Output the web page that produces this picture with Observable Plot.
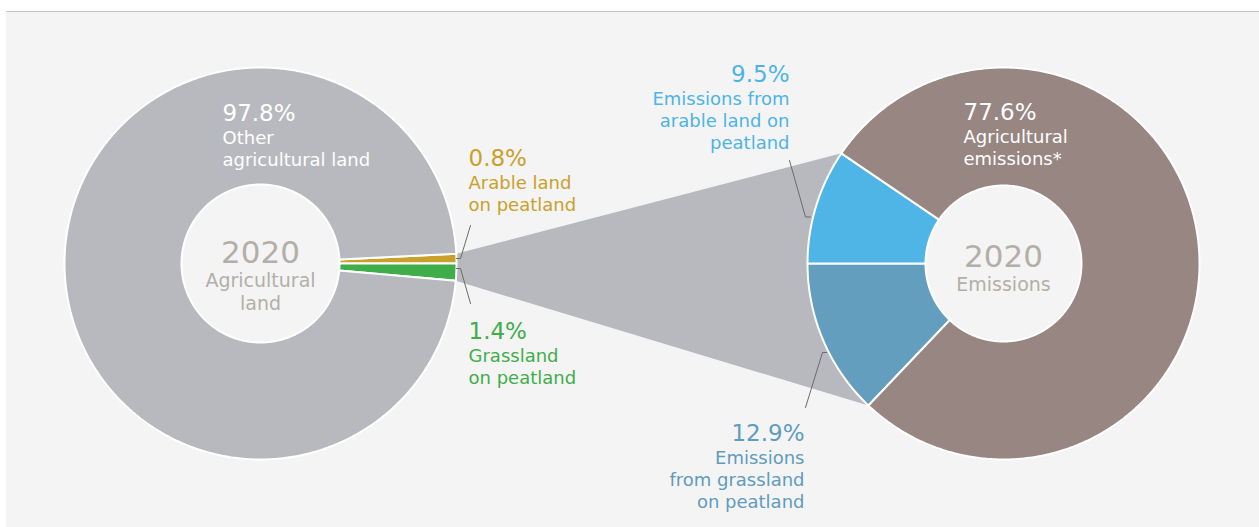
<!DOCTYPE html>
<html>
<head>
<meta charset="utf-8">
<script src="https://cdn.jsdelivr.net/npm/d3@7"></script>
<script src="https://cdn.jsdelivr.net/npm/@observablehq/plot@0.6"></script>
<style>
  html, body { margin: 0; padding: 0; background: #ffffff; width: 1259px; height: 527px; overflow: hidden; }
  #panel { position: absolute; left: 6px; top: 11px; right: 0; bottom: 0; background: #f4f4f4; border-top: 1px solid #c4c4c4; }
  #chart { position: absolute; left: 0; top: 0; }
</style>
</head>
<body>
<div id="panel"></div>
<div id="chart"></div>
<script>
// ---------------- DATA ----------------
const year = "2020";
const landCategories = ["Arable land on peatland", "Grassland on peatland", "Other agricultural land"];
const landShares = [0.8, 1.4, 97.8];
const landLabels = ["Arable land\non peatland", "Grassland\non peatland", "Other\nagricultural land"];
const landTitle = "Agricultural\nland";

const emissionCategories = ["Emissions from grassland on peatland", "Emissions from arable land on peatland", "Agricultural emissions*"];
const emissionShares = [12.9, 9.5, 77.6];
const emissionLabels = ["Emissions\nfrom grassland\non peatland", "Emissions from\narable land on\npeatland", "Agricultural\nemissions*"];
const emissionTitle = "Emissions";

// ---------------- STYLE / LAYOUT ----------------
const W = 1259, H = 527;
const FONT = "'DejaVu Sans', sans-serif";
const landColors = ["#c9a12a", "#3fae4a", "#b8b9be"];
const emissionColors = ["#639ebf", "#4fb5e7", "#978682"];
const landTextColors = ["#c9a12a", "#3fae4a", "#ffffff"];
const emissionTextColors = ["#5f9cbe", "#4db4e6", "#ffffff"];
const centerColor = "#b3afa8";
const leftDonut = {cx: 260, cy: 263, r: 196, r0: 79};
const rightDonut = {cx: 1003, cy: 263, r: 196, r0: 78};
// label anchor positions (x, baseline of percent) and text anchor
const landLabelPos = [
  {x: 468, y: 165, anchor: "start"},
  {x: 468, y: 338, anchor: "start"},
  {x: 222, y: 120, anchor: "start"}
];
const emissionLabelPos = [
  {x: 804, y: 440, anchor: "end"},
  {x: 789, y: 81, anchor: "end"},
  {x: 963, y: 119, anchor: "start"}
];
const leaderLines = [
  [[470, 225], [460, 258], [456, 258]],
  [[470, 303], [460, 268], [456, 268]],
  [[789, 160], [805, 216.5], [810, 216.5]],
  [[805, 407], [822, 352], [826, 352]]
];
const PCT = 23, DESC = 18, LH = 22;

// ---------------- GEOMETRY FROM DATA ----------------
const toRad = Math.PI * 2 / 100;
const landPie = d3.pie().sort(null).value(d => d)
  .startAngle(Math.PI / 2 - landShares[0] * toRad)
  .endAngle(Math.PI / 2 - landShares[0] * toRad + Math.PI * 2)(landShares);
const emPie = d3.pie().sort(null).value(d => d)
  .startAngle(Math.PI * 1.5 - emissionShares[0] * toRad)
  .endAngle(Math.PI * 1.5 - emissionShares[0] * toRad + Math.PI * 2)(emissionShares);

const pt = (dn, a, r) => ({x: dn.cx + r * Math.sin(a), y: dn.cy - r * Math.cos(a)});
function arcPoly(dn, a0, a1, key, category) {
  const n = Math.max(2, Math.ceil((a1 - a0) / (Math.PI / 360)));
  const pts = [];
  for (let i = 0; i <= n; i++) pts.push({...pt(dn, a0 + (a1 - a0) * i / n, dn.r), key, category});
  for (let i = n; i >= 0; i--) pts.push({...pt(dn, a0 + (a1 - a0) * i / n, dn.r0), key, category});
  pts.push({...pts[0]});
  return pts;
}
const slices = [
  ...landPie.flatMap((s, i) => arcPoly(leftDonut, s.startAngle, s.endAngle, "L" + i, landCategories[i])),
  ...emPie.flatMap((s, i) => arcPoly(rightDonut, s.startAngle, s.endAngle, "E" + i, emissionCategories[i]))
];
const funnel = [
  pt(leftDonut, landPie[0].startAngle, leftDonut.r),
  pt(rightDonut, emPie[1].endAngle, rightDonut.r),
  pt(rightDonut, emPie[0].startAngle, rightDonut.r),
  pt(leftDonut, landPie[1].endAngle, leftDonut.r)
];
funnel.push({...funnel[0]});

const fmt = v => d3.format(".1f")(v) + "%";
const lines = s => s.split("\n").length;
const labelData = [
  ...landShares.map((v, i) => ({pct: fmt(v), desc: landLabels[i], color: landTextColors[i], ...landLabelPos[i]})),
  ...emissionShares.map((v, i) => ({pct: fmt(v), desc: emissionLabels[i], color: emissionTextColors[i], ...emissionLabelPos[i]}))
];
const leaderData = leaderLines.flatMap((l, k) => l.map(([x, y]) => ({x, y, k})));
const centers = [
  {x: leftDonut.cx, yearY: 262, title: landTitle},
  {x: rightDonut.cx, yearY: 266, title: emissionTitle}
];

const marks = [
  Plot.line(funnel, {x: "x", y: "y", fill: "#b8b9be", stroke: "none"}),
  Plot.line(slices, {x: "x", y: "y", z: "key", fill: "category", stroke: "#ffffff", strokeWidth: 2, strokeLinejoin: "round"}),
  Plot.line(leaderData, {x: "x", y: "y", z: "k", stroke: "#6a6a6a", strokeWidth: 1})
];
for (const d of labelData) {
  marks.push(Plot.text([d], {x: "x", y: "y", text: "pct", textAnchor: d.anchor, lineAnchor: "bottom", fill: d.color, fontSize: PCT, fontFamily: FONT}));
  marks.push(Plot.text([d], {x: "x", y: dd => dd.y + 23 + (lines(dd.desc) - 1) * LH, text: "desc", textAnchor: d.anchor, lineAnchor: "bottom", lineHeight: LH / DESC, fill: d.color, fontSize: DESC, fontFamily: FONT}));
}
marks.push(Plot.text(centers, {x: "x", y: "yearY", text: () => year, textAnchor: "middle", lineAnchor: "bottom", fill: centerColor, fontSize: 31, fontFamily: FONT}));
marks.push(Plot.text(centers, {x: "x", y: d => d.yearY + 24 + (lines(d.title) - 1) * 23, text: "title", textAnchor: "middle", lineAnchor: "bottom", lineHeight: 23 / 19, fill: centerColor, fontSize: 19, fontFamily: FONT}));

const chart = Plot.plot({
  width: W, height: H,
  margin: 0,
  style: {background: "transparent", fontFamily: FONT},
  x: {domain: [0, W], range: [0, W], axis: null},
  y: {domain: [0, H], range: [0, H], axis: null},
  color: {domain: [...landCategories, ...emissionCategories], range: [...landColors, ...emissionColors]},
  marks
});
document.getElementById("chart").appendChild(chart);
</script>
</body>
</html>
